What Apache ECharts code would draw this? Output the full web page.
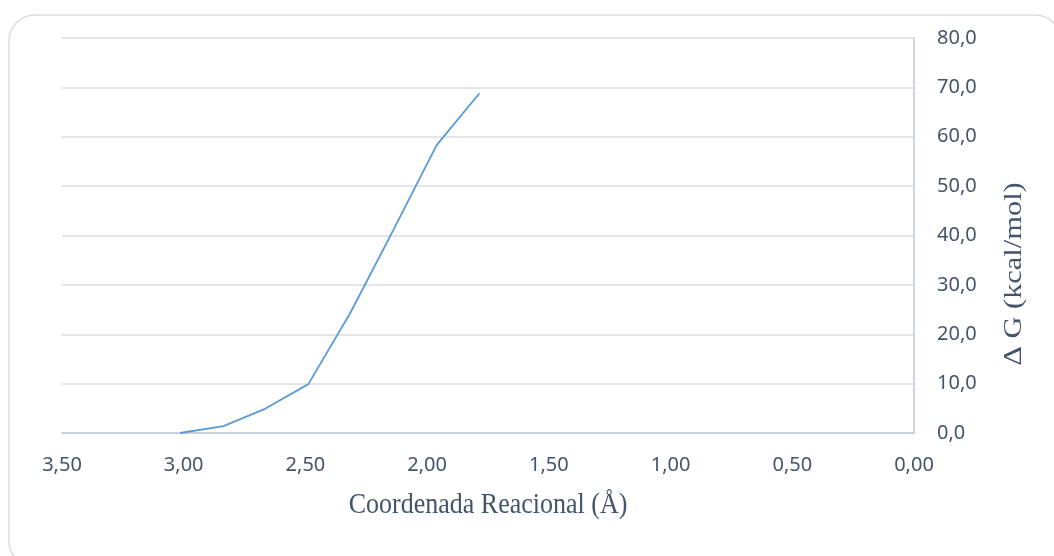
<!DOCTYPE html>
<html>
<head>
<meta charset="utf-8">
<script src="https://cdn.jsdelivr.net/npm/echarts@6/dist/echarts.min.js"></script>
<style>
html,body{margin:0;padding:0;background:#fff;}
#c{width:1054px;height:556px;}
</style>
</head>
<body>
<div id="c"></div>
<script>
var coordX = [3.015, 2.837, 2.666, 2.488, 2.317, 2.139, 1.961, 1.785];
var deltaG = [0.0, 1.4, 4.9, 9.9, 24.2, 41.1, 58.3, 68.8];
var xTicks = ['0,00','0,50','1,00','1,50','2,00','2,50','3,00','3,50'];
var yTicks = ['0,0','10,0','20,0','30,0','40,0','50,0','60,0','70,0','80,0'];
var xTitle = 'Coordenada Reacional (Å)';
var yTitle = 'Δ G (kcal/mol)';

var chart = echarts.init(document.getElementById('c'), null, {renderer:'canvas'});
var labelColor = '#44546a';
chart.setOption({
  animation:false,
  backgroundColor:'#fff',
  graphic:[
    {type:'rect', shape:{x:9,y:15,width:1052,height:552,r:26}, style:{fill:'none',stroke:'#d9dde3',lineWidth:1.5}, z:-1},
    {type:'text', x:1014, y:274, rotation:Math.PI/2, scaleX:1.17,
      style:{text:yTitle, font:'26px "Liberation Serif"', fill:'#44546a', align:'center', verticalAlign:'middle'}},
    {type:'text', x:488, y:505, scaleY:1.17,
      style:{text:xTitle, font:'26px "Liberation Serif"', fill:'#44546a', align:'center', verticalAlign:'middle'}}
  ],
  grid:{left:62,right:140,top:38,bottom:123},
  xAxis:{
    type:'value', min:0, max:3.5, interval:0.5, inverse:true,
    axisLine:{show:true, onZero:false, lineStyle:{color:'#bfc8d6',width:1.5}},
    axisTick:{show:false},
    splitLine:{show:false},
    axisLabel:{margin:22, fontFamily:'Noto Sans', fontSize:20, color:labelColor,
      formatter:function(v){return xTicks[Math.round(v/0.5)];}}
  },
  yAxis:{
    type:'value', position:'right', min:0, max:80, interval:10,
    axisLine:{show:true, onZero:false, lineStyle:{color:'#bfc8d6',width:1.5}},
    axisTick:{show:false},
    splitLine:{show:true, lineStyle:{color:'#d9dde3',width:1.5}},
    axisLabel:{margin:23, align:'left', fontFamily:'Noto Sans', fontSize:20, color:labelColor,
      formatter:function(v){return yTicks[Math.round(v/10)];}}
  },
  series:[{
    type:'line',
    data:coordX.map(function(x,i){return [x, deltaG[i]];}),
    showSymbol:false,
    lineStyle:{color:'#5b9bd5', width:1.8},
    itemStyle:{color:'#5b9bd5'}
  }]
});
</script>
</body>
</html>
